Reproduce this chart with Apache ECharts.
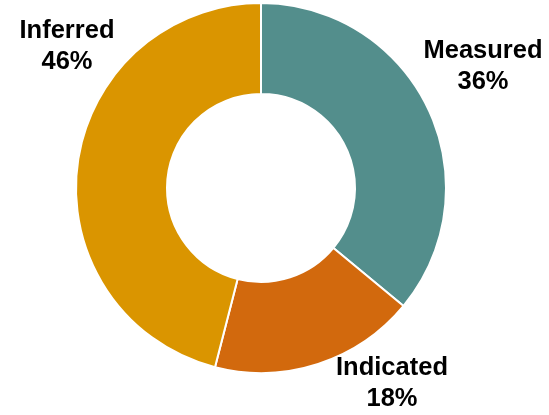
<!DOCTYPE html>
<html><head><meta charset="utf-8">
<script src="https://cdn.jsdelivr.net/npm/echarts@6/dist/echarts.min.js"></script>
<style>html,body{margin:0;padding:0;background:#fff}#c{width:549px;height:415px}</style>
</head><body><div id="c"></div>
<script>
const categories = ['Measured', 'Indicated', 'Inferred'];
const values = [36, 18, 46];
const colors = ['#538E8C', '#D2690D', '#DA9500'];
const labelPos = [[483, 66], [392, 383], [67, 46]];

const chart = echarts.init(document.getElementById('c'));
chart.setOption({
  animation: false,
  series: [{
    type: 'pie',
    center: [261, 188],
    radius: [94, 185],
    startAngle: 90,
    clockwise: true,
    data: categories.map((n, i) => ({ name: n, value: values[i], itemStyle: { color: colors[i] } })),
    itemStyle: { borderColor: '#fff', borderWidth: 2 },
    label: {
      show: true,
      position: 'outside',
      formatter: p => p.name + '\n' + p.value + '%',
      fontFamily: 'Liberation Sans, Arial, sans-serif',
      fontWeight: 'bold',
      fontSize: 25.5,
      lineHeight: 31,
      color: '#000',
      align: 'center',
      overflow: 'none'
    },
    labelLine: { show: false },
    labelLayout: p => ({ x: labelPos[p.dataIndex][0], y: labelPos[p.dataIndex][1], align: 'center', verticalAlign: 'middle' })
  }]
});
</script></body></html>
